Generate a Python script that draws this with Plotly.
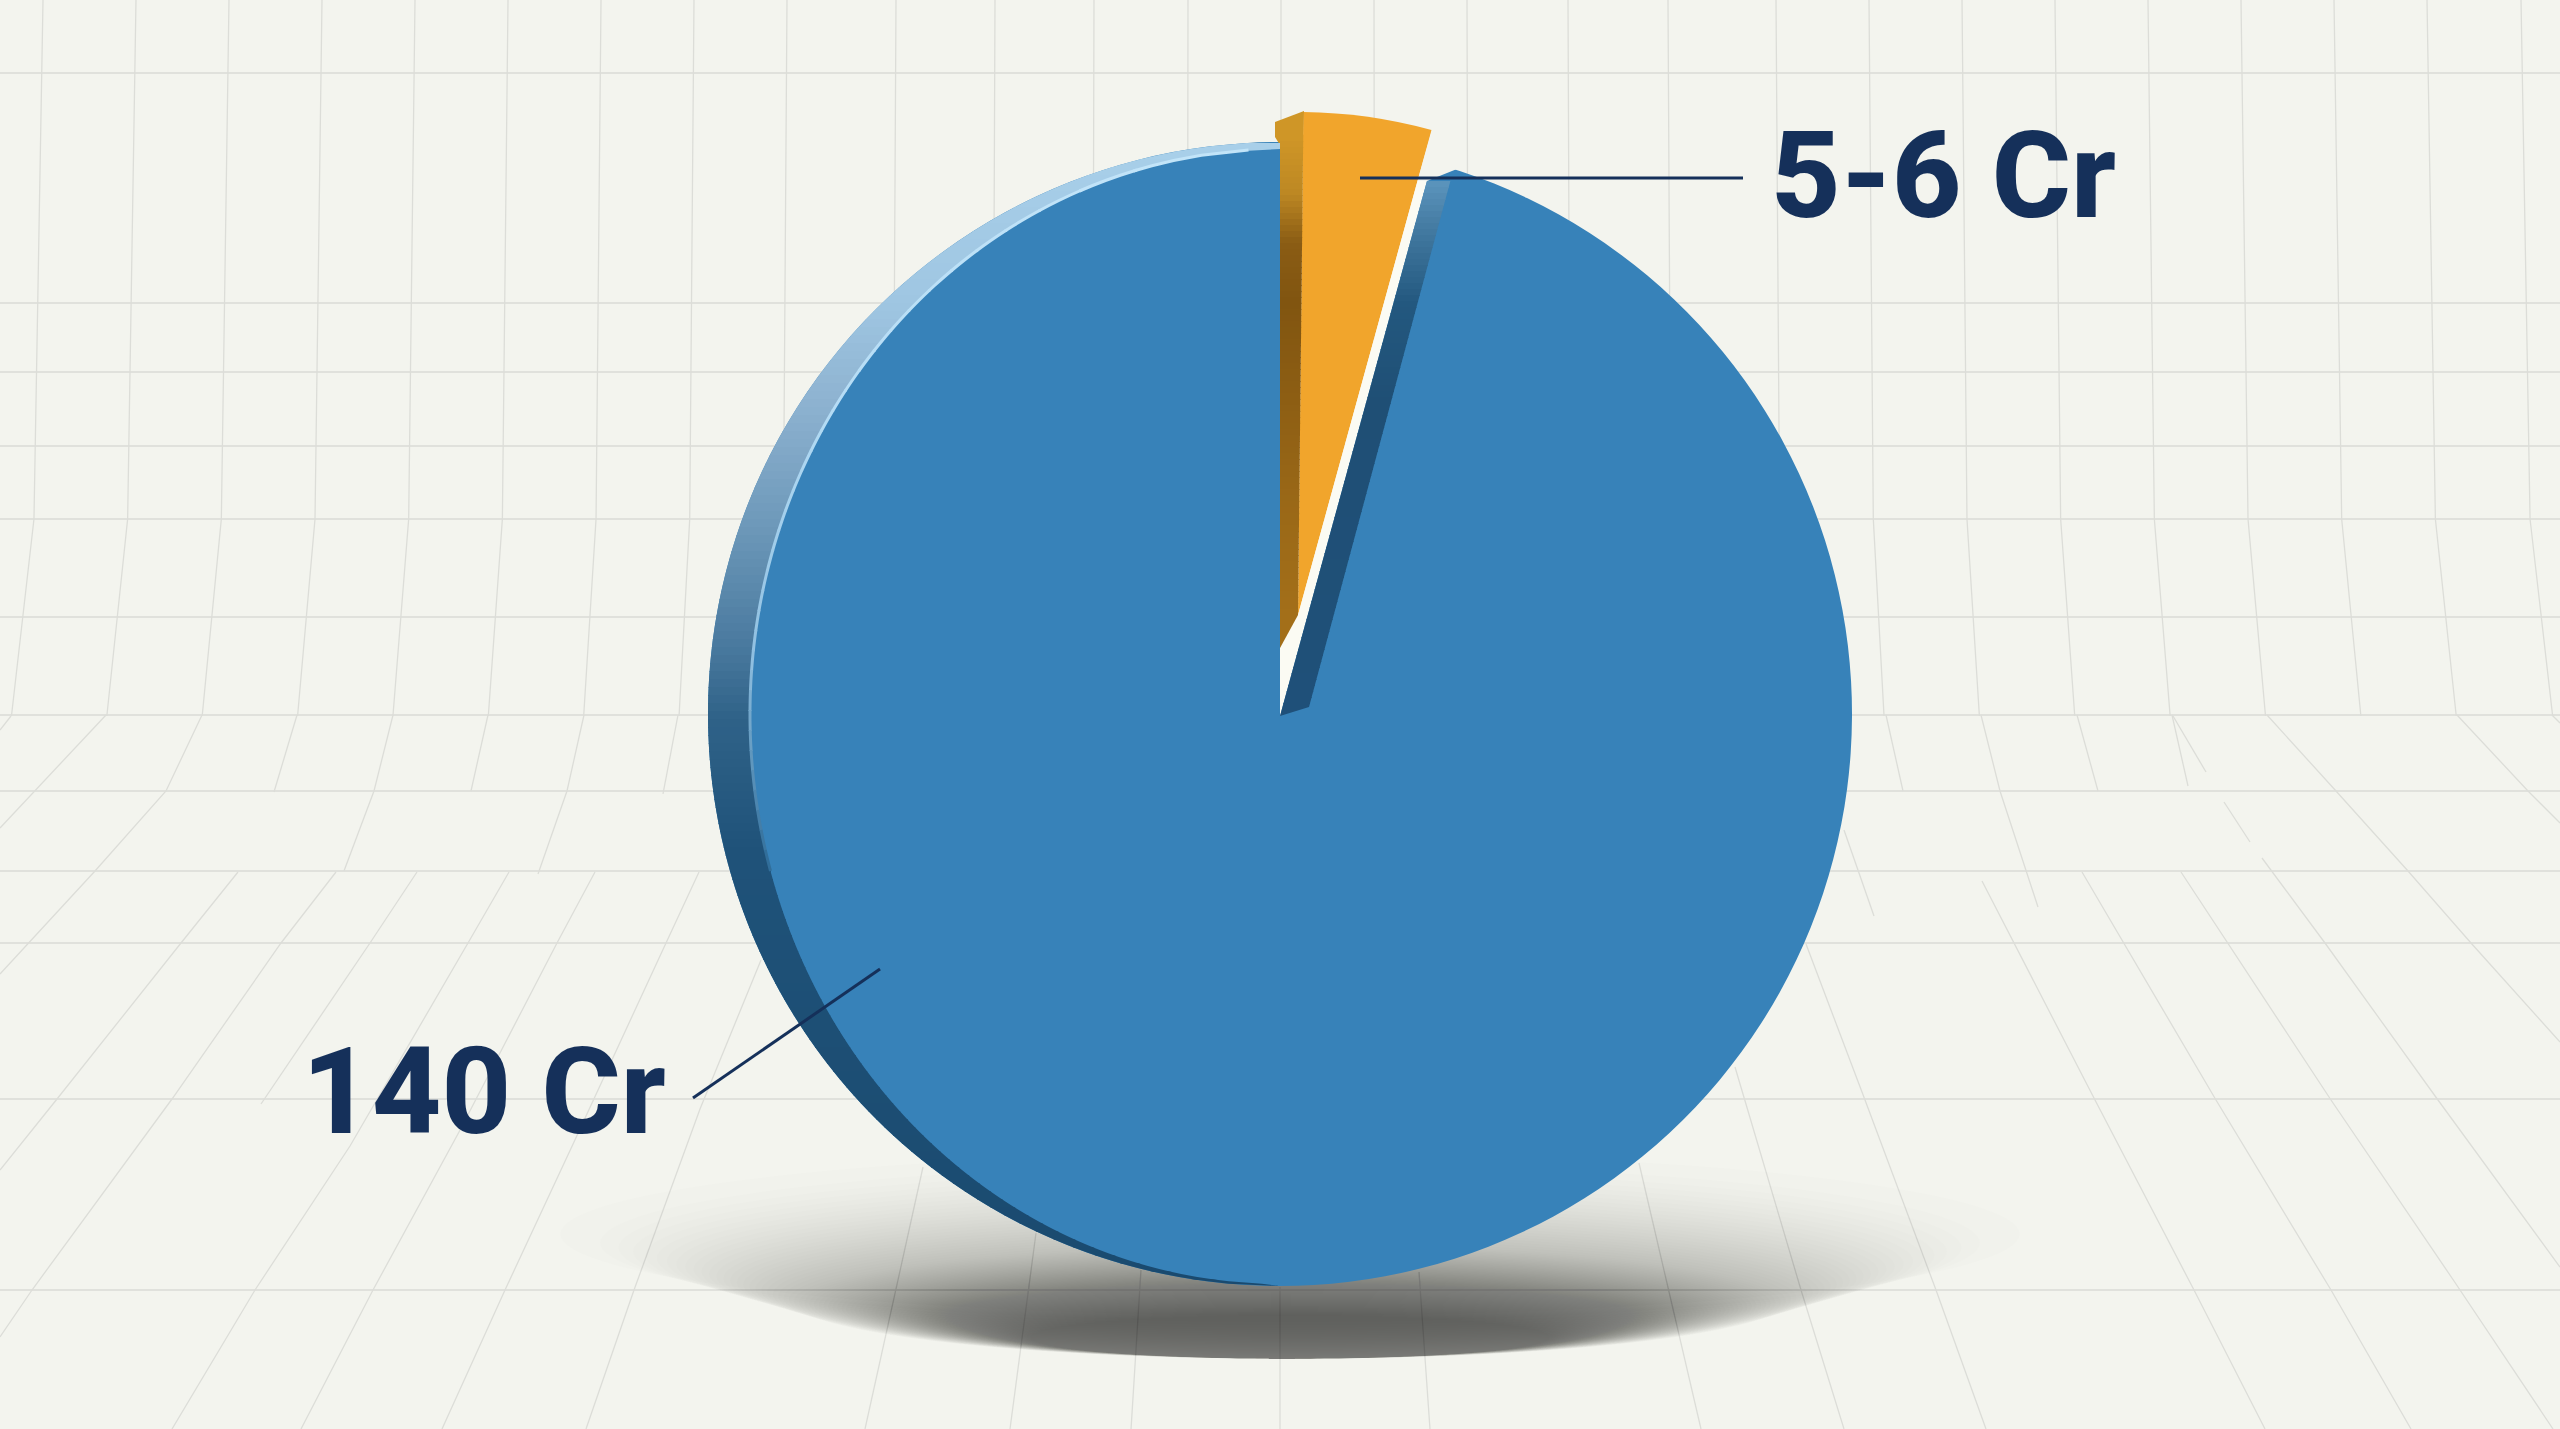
import numpy as np
import plotly.graph_objects as go

W, H = 2560, 1429
BG = "#f3f4ee"
NAVY = "#15305a"

# chart data
categories = ["5-6 Cr", "140 Cr"]
values = [6, 140]
blue_colors = ["rgba(0,0,0,0)", "#3782b9"]
orange_colors = ["#f1a52c", "rgba(0,0,0,0)"]

# background grid (pixel positions of the decorative paper)
horizontals = [73, 303, 372, 446, 519, 617, 715, 791, 871, 943, 1099, 1290]
top_verticals = [43, 136, 229, 322, 415, 508, 601, 694, 787, 896, 995, 1094, 1188, 1281,
                 1374, 1467, 1568, 1668, 1776, 1869, 1962, 2055, 2148, 2241, 2334, 2427, 2521]
floor_lines = [
    [(11, 716), (0, 730)],
    [(106, 715), (0, 828)],
    [(202, 715), (166, 791), (95, 871), (0, 974)],
    [(297, 715), (274, 792)],
    [(393, 715), (374, 791), (344, 871)],
    [(488, 715), (471, 791)],
    [(584, 715), (567, 791), (538, 874)],
    [(678, 715), (663, 794)],
    [(238, 872), (181, 943), (57, 1099), (0, 1170)],
    [(336, 872), (281, 943), (172, 1099), (32, 1290), (0, 1337)],
    [(417, 872), (370, 943), (261, 1104)],
    [(509, 872), (468, 943), (350, 1146), (255, 1290), (172, 1429)],
    [(595, 872), (557, 943), (459, 1132), (373, 1290), (301, 1429)],
    [(699, 872), (666, 943), (574, 1142), (505, 1290), (442, 1429)],
    [(761, 960), (700, 1109), (634, 1290), (586, 1429)],
    [(923, 1167), (865, 1429)],
    [(1036, 1233), (1010, 1429)],
    [(1141, 1270), (1131, 1429)],
    [(1280, 1287), (1280, 1429)],
    [(1419, 1272), (1430, 1429)],
    [(1639, 1163), (1701, 1429)],
    [(1735, 1067), (1801, 1290), (1844, 1429)],
    [(1806, 944), (1865, 1100), (1936, 1290), (1986, 1429)],
    [(1844, 830), (1874, 916)],
    [(1886, 715), (1903, 791)],
    [(1981, 715), (2000, 791), (2038, 907)],
    [(2077, 715), (2098, 791)],
    [(2172, 715), (2188, 786)],
    [(2173, 716), (2206, 772)],
    [(2224, 802), (2250, 842)],
    [(2267, 715), (2336, 791), (2408, 871), (2471, 943), (2560, 1042)],
    [(2457, 715), (2528, 791), (2560, 823)],
    [(2552, 715), (2560, 723)],
    [(1982, 881), (2095, 1100), (2194, 1290), (2265, 1429)],
    [(2082, 872), (2216, 1100), (2331, 1290), (2411, 1429)],
    [(2181, 872), (2331, 1100), (2454, 1281), (2553, 1429)],
    [(2262, 858), (2325, 943), (2438, 1100), (2560, 1267)],
]


def X(x):
    return x / W


def Y(y):
    return 1 - y / H


def path(points, close=True):
    s = "M " + " L ".join(f"{X(x):.5f},{Y(y):.5f}" for x, y in points)
    return s + (" Z" if close else "")


def hexrgb(c):
    return np.array([int(c[i:i + 2], 16) for i in (1, 3, 5)], float)


def ramp(y, ys, cs):
    rgb = [np.interp(y, ys, [hexrgb(c)[k] for c in cs]) for k in range(3)]
    return "rgb(%d,%d,%d)" % tuple(int(round(v)) for v in rgb)


shapes = []


def poly(points, color, layer="above"):
    shapes.append(dict(type="path", xref="paper", yref="paper", path=path(points),
                       fillcolor=color, line=dict(width=0), layer=layer))


def polyline(points, color, width, layer="above"):
    shapes.append(dict(type="path", xref="paper", yref="paper", path=path(points, False),
                       line=dict(color=color, width=width), layer=layer))


# grid
for y in horizontals:
    polyline([(0, y), (W, y)], "#e0e1dc", 2, "below")
for x0 in top_verticals:
    pts = [(1280 + (x0 - 1280) * f, y) for y, f in [(0, 1.0), (519, 1.0073), (716, 1.0255)]]
    polyline(pts, "#dcddd8", 1.3, "below")
for seg in floor_lines:
    polyline(seg, "#dcddd8", 1.3, "below")

# soft shadow under the disc
N = 90
for i in range(N):
    t = i / (N - 1)
    rx = 730 - 470 * t ** 0.55
    ry = 82 - 60 * t ** 0.7
    bottom = 1316 + 43 * min(1.0, t * 3.5) ** 0.6
    cy = bottom - ry
    shapes.append(dict(type="circle", xref="paper", yref="paper",
                       x0=X(1290 - rx), x1=X(1290 + rx), y0=Y(cy + ry), y1=Y(cy - ry),
                       fillcolor="#3a3a35", opacity=0.0072, line=dict(width=0), layer="below"))

# patch above the blue slice end, white gap
poly([(1417.5, 181), (1432, 130), (1462, 130), (1457, 169), (1427, 181)], BG)
poly([(1280, 716), (1280, 648), (1298, 615), (1417.5, 181), (1427, 181)], "#fbfbf3")

# dark wall of the blue slice
wall_y = [181, 230, 300, 400, 707]
wall_c = ["#5a93bb", "#41789f", "#23587f", "#1f4f75", "#1f5079"]
lft = lambda v: 1427 + (v - 181) * (1280 - 1427) / (716 - 181)
rgt = lambda v: 1452 + (v - 175) * (1309 - 1452) / (707 - 175)
for y in np.arange(181, 707, 6):
    y2 = min(y + 7, 707)
    poly([(lft(y), y), (rgt(y), y), (rgt(y2), y2), (lft(y2), y2)], ramp(y, wall_y, wall_c))
poly([(1280, 716), (1309, 707), (lft(707), 707)], "#1f5079")

# brown wall of the orange slice
brown_y = [135, 190, 240, 300, 500, 615]
brown_c = ["#cf9627", "#bd8823", "#8a5c14", "#815510", "#9a6817", "#a36f19"]
poly([(1275, 122), (1304, 111), (1303, 137), (1280, 145), (1275, 137)], "#cf9627")
r = lambda v: 1303.5 + (v - 112) * (1298 - 1303.5) / (615 - 112)
for y in np.arange(135, 615, 6):
    y2 = min(y + 7, 615)
    poly([(1280, y), (r(y), y), (r(y2), y2), (1280, y2)], ramp(y, brown_y, brown_c))
poly([(1280, 615), (1298, 615), (1280, 648)], "#a36f19")

# crescent rim on the left of the disc
R = 572
CX, CY = 1280, 714
rim_y = [143, 300, 400, 519, 640, 714, 850, 1286]
rim_c = ["#a8cfe9", "#9fc6e2", "#8db2d0", "#6e99ba", "#4a7a9f", "#2f6288", "#1f5279", "#1a4a6f"]


def outer(y):
    return np.sqrt(max(R ** 2 - (y - CY) ** 2, 0))


def inner(y):
    ry = 565 if y < CY else 570
    return min(530 * np.sqrt(max(1 - ((y - CY) / ry) ** 2, 0)), outer(y))


ys = list(np.arange(143, 1286, 8)) + [1286]
for a, b in zip(ys[:-1], ys[1:]):
    b2 = min(b + 1, 1286)
    mid = np.linspace(a, b2, 4)
    pts = [(CX - outer(v), v) for v in mid] + [(CX - inner(v), v) for v in mid[::-1]]
    poly(pts, ramp(a, rim_y, rim_c))

# highlight line on the inner edge of the rim
hl_y = [150, 400, 650, 860]
hl_c = ["#c2e4f8", "#b5dcf5", "#8fbfe0", "#2c6a96"]
for y in np.arange(150, 860, 20):
    polyline([(CX - inner(v), v) for v in np.linspace(y, y + 21, 5)], ramp(y, hl_y, hl_c), 3)

# leader lines
polyline([(1360, 178), (1743, 178)], NAVY, 3)
polyline([(693, 1098), (880, 969)], NAVY, 3)

fig = go.Figure()
fig.add_trace(go.Pie(labels=categories, values=values, sort=False, direction="clockwise",
                     rotation=0, textinfo="none", showlegend=False,
                     marker=dict(colors=blue_colors, line=dict(width=0)),
                     domain=dict(x=[X(CX - R), X(CX + R)], y=[Y(CY + R), Y(CY - R)])))
ocx, ocy, orad = 1298, 615, 503
fig.add_trace(go.Pie(labels=categories, values=values, sort=False, direction="clockwise",
                     rotation=0.6, textinfo="none", showlegend=False,
                     marker=dict(colors=orange_colors, line=dict(width=0)),
                     domain=dict(x=[X(ocx - orad), X(ocx + orad)], y=[Y(ocy + orad), Y(ocy - orad)])))

label_font = dict(family="Roboto", size=121, color=NAVY, weight=800)
annotations = [
    dict(text=categories[0], x=X(1769), y=Y(176), xref="paper", yref="paper", xanchor="left",
         yanchor="middle", showarrow=False, font=label_font),
    dict(text=categories[1], x=X(300), y=Y(1092), xref="paper", yref="paper", xanchor="left",
         yanchor="middle", showarrow=False, font=label_font),
]

fig.update_layout(width=W, height=H, autosize=False, margin=dict(l=0, r=0, t=0, b=0),
                  paper_bgcolor=BG, plot_bgcolor=BG, shapes=shapes, annotations=annotations)
fig.write_html("out.html", config=dict(displayModeBar=False),
               post_script="document.body.style.margin='0';document.documentElement.style.overflow='hidden';")
